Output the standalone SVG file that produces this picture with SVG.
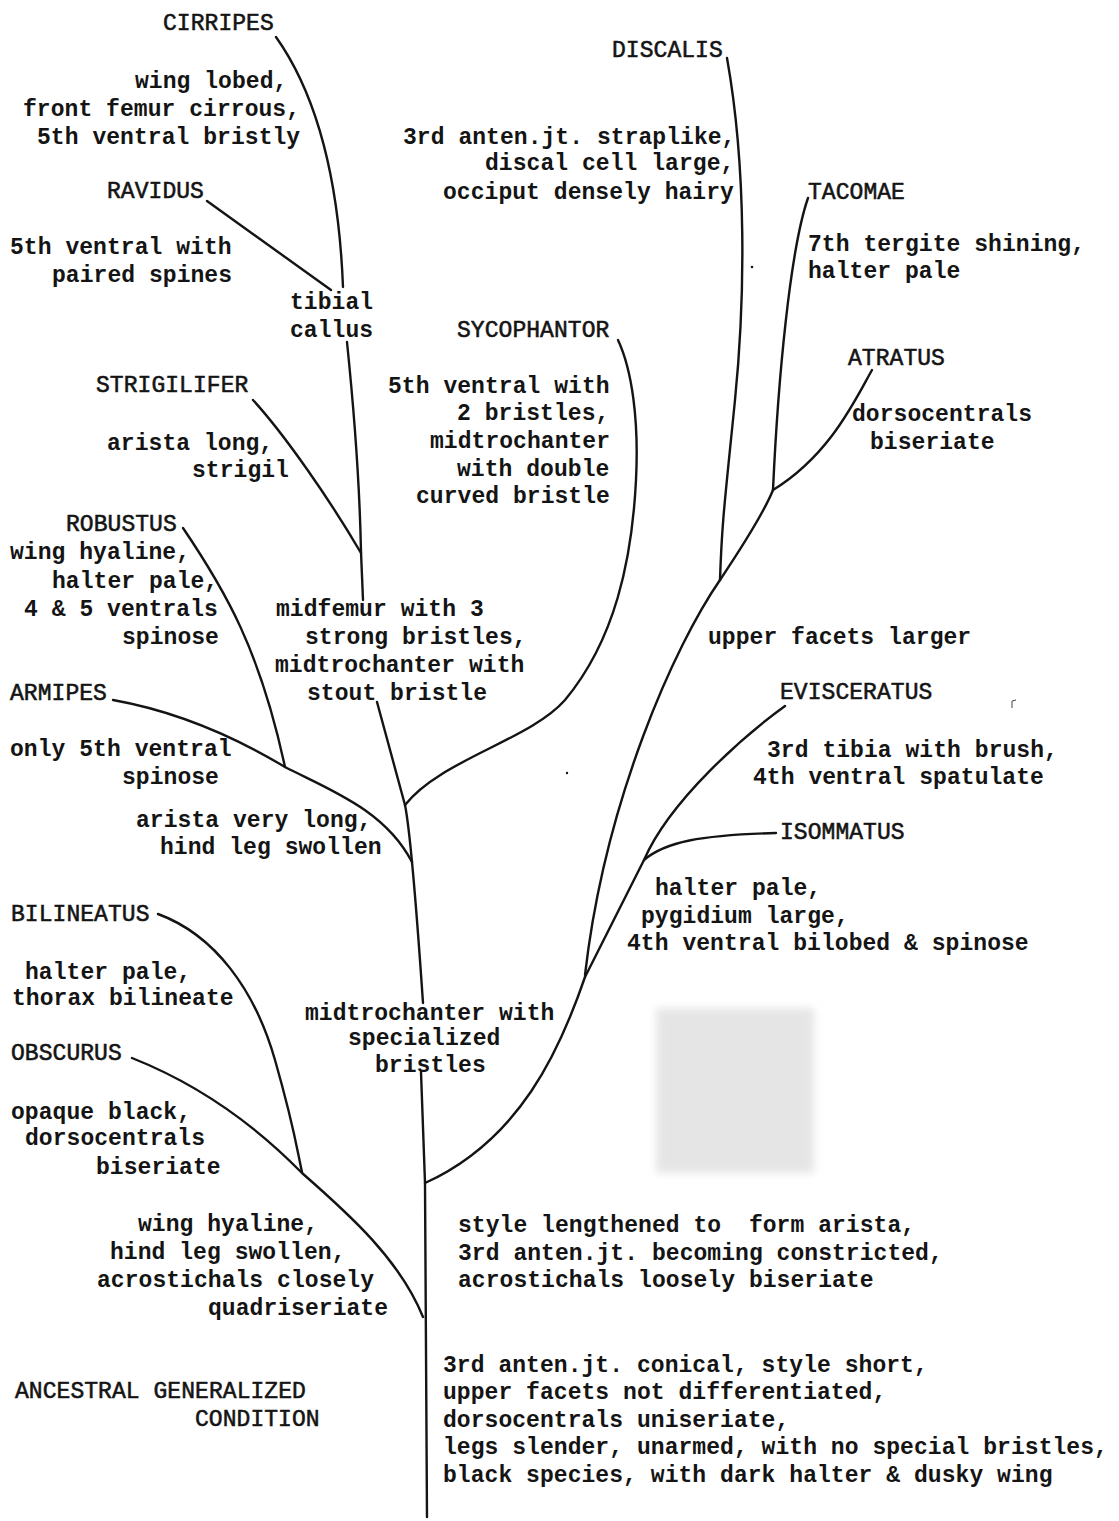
<svg xmlns="http://www.w3.org/2000/svg" width="1119" height="1521" viewBox="0 0 1119 1521">
<style>
text { font-family: "Liberation Mono", "Courier New", monospace; font-size: 23px; letter-spacing: 0.05px; fill: #141414; }
.d { font-weight: bold; }
.n { font-weight: normal; stroke: #141414; stroke-width: 0.55px; }
.br { fill: none; stroke: #141414; stroke-width: 2.4; stroke-linecap: round; stroke-linejoin: round; }
</style>
<defs>
<filter id="blur" x="-20%" y="-20%" width="140%" height="140%"><feGaussianBlur stdDeviation="4"/></filter>
</defs>
<rect width="1119" height="1521" fill="#ffffff"/>
<rect x="656" y="1008" width="158" height="165" fill="#e5e5e5" filter="url(#blur)"/>
<g id="specks" fill="#141414">
<circle cx="752" cy="267" r="1.3"/>
<circle cx="567" cy="773" r="1.2"/>
<path d="M1012,708 L1012,701 L1016,700" fill="none" stroke="#444" stroke-width="1"/>
</g>

<g id="connectors">
<path class="br" d="M276,37 C310,85 338,160 343,287"/>
<path class="br" d="M207,201 L331,290"/>
<path class="br" d="M347,342 C355,420 360,500 361,552 L363,600"/>
<path class="br" d="M253,400 C285,435 330,500 361,553"/>
<path class="br" d="M377,702 L405,805 C410,830 418,930 423,1003"/>
<path class="br" d="M618,340 C632,370 639,420 636,480 C632,560 615,640 565,700 C530,740 440,760 405,805"/>
<path class="br" d="M183,528 C225,590 260,650 285,767"/>
<path class="br" d="M113,700 C180,712 240,740 285,767 C330,790 385,810 412,862"/>
<path class="br" d="M421,1072 L425,1183 L427,1517"/>
<path class="br" d="M158,914 C215,935 255,990 275,1060 S297,1150 302,1172"/>
<path class="br" d="M132,1058 C200,1085 255,1125 302,1173 C350,1215 400,1260 423,1317"/>
<path class="br" d="M727,58 C747,170 745,300 735,400 S722,520 720,580"/>
<path class="br" d="M808,198 C790,250 778,380 773,490"/>
<path class="br" d="M872,370 C855,400 830,455 773,490"/>
<path class="br" d="M773,490 C765,510 740,550 720,580"/>
<path class="br" d="M720,580 C675,645 605,800 585,975"/>
<path class="br" d="M785,706 C745,735 670,800 644,860 L585,977"/>
<path class="br" d="M644,860 C665,842 700,835 776,833"/>
<path class="br" d="M585,977 C560,1050 520,1140 425,1183"/>
</g>

<g id="cirripes">
<text class="n" x="163" y="30">CIRRIPES</text>
<text class="d"><tspan x="135" y="88">wing lobed,</tspan><tspan x="23" y="116">front femur cirrous,</tspan><tspan x="37" y="144">5th ventral bristly</tspan></text>
</g>
<g id="ravidus">
<text class="n" x="107" y="198">RAVIDUS</text>
<text class="d"><tspan x="10" y="254">5th ventral with</tspan><tspan x="52" y="282">paired spines</tspan></text>
</g>
<g id="tibial-callus">
<text class="d"><tspan x="290" y="309">tibial</tspan><tspan x="290" y="337">callus</tspan></text>
</g>
<g id="discalis">
<text class="n" x="612" y="57">DISCALIS</text>
<text class="d"><tspan x="403" y="144">3rd anten.jt. straplike,</tspan><tspan x="485" y="170">discal cell large,</tspan><tspan x="443" y="199">occiput densely hairy</tspan></text>
</g>
<g id="tacomae">
<text class="n" x="808" y="199">TACOMAE</text>
<text class="d"><tspan x="808" y="251">7th tergite shining,</tspan><tspan x="808" y="278">halter pale</tspan></text>
</g>
<g id="atratus">
<text class="n" x="848" y="365">ATRATUS</text>
<text class="d"><tspan x="852" y="421">dorsocentrals</tspan><tspan x="870" y="449">biseriate</tspan></text>
</g>
<g id="sycophantor">
<text class="n" x="457" y="337">SYCOPHANTOR</text>
<text class="d"><tspan x="388" y="393">5th ventral with</tspan><tspan x="457" y="420">2 bristles,</tspan><tspan x="430" y="448">midtrochanter</tspan><tspan x="457" y="476">with double</tspan><tspan x="416" y="503">curved bristle</tspan></text>
</g>
<g id="strigilifer">
<text class="n" x="96" y="392">STRIGILIFER</text>
<text class="d"><tspan x="107" y="450">arista long,</tspan><tspan x="192" y="477">strigil</tspan></text>
</g>
<g id="robustus">
<text class="n" x="66" y="531">ROBUSTUS</text>
<text class="d"><tspan x="10" y="559">wing hyaline,</tspan><tspan x="52" y="588">halter pale,</tspan><tspan x="24" y="616">4 &amp; 5 ventrals</tspan><tspan x="122" y="644">spinose</tspan></text>
</g>
<g id="midfemur">
<text class="d"><tspan x="276" y="616">midfemur with 3</tspan><tspan x="305" y="644">strong bristles,</tspan><tspan x="275" y="672">midtrochanter with</tspan><tspan x="307" y="700">stout bristle</tspan></text>
</g>
<g id="armipes">
<text class="n" x="10" y="700">ARMIPES</text>
<text class="d"><tspan x="10" y="756">only 5th ventral</tspan><tspan x="122" y="784">spinose</tspan></text>
</g>
<g id="arista-very-long">
<text class="d"><tspan x="136" y="827">arista very long,</tspan><tspan x="160" y="854">hind leg swollen</tspan></text>
</g>
<g id="upper-facets">
<text class="d" x="708" y="644">upper facets larger</text>
</g>
<g id="eviceratus">
<text class="n" x="780" y="699">EVISCERATUS</text>
<text class="d"><tspan x="767" y="757">3rd tibia with brush,</tspan><tspan x="753" y="784">4th ventral spatulate</tspan></text>
</g>
<g id="isommatus">
<text class="n" x="780" y="839">ISOMMATUS</text>
<text class="d"><tspan x="655" y="895">halter pale,</tspan><tspan x="641" y="923">pygidium large,</tspan><tspan x="627" y="950">4th ventral bilobed &amp; spinose</tspan></text>
</g>
<g id="bilineatus">
<text class="n" x="11" y="921">BILINEATUS</text>
<text class="d"><tspan x="25" y="979">halter pale,</tspan><tspan x="12" y="1005">thorax bilineate</tspan></text>
</g>
<g id="obscurus">
<text class="n" x="11" y="1060">OBSCURUS</text>
<text class="d"><tspan x="11" y="1119">opaque black,</tspan><tspan x="25" y="1145">dorsocentrals</tspan><tspan x="96" y="1174">biseriate</tspan></text>
</g>
<g id="midtrochanter-specialized">
<text class="d"><tspan x="305" y="1020">midtrochanter with</tspan><tspan x="348" y="1045">specialized</tspan><tspan x="375" y="1072">bristles</tspan></text>
</g>
<g id="wing-hyaline">
<text class="d"><tspan x="138" y="1231">wing hyaline,</tspan><tspan x="110" y="1259">hind leg swollen,</tspan><tspan x="97" y="1287">acrostichals closely</tspan><tspan x="208" y="1315">quadriseriate</tspan></text>
</g>
<g id="style-lengthened">
<text class="d" xml:space="preserve"><tspan x="458" y="1232">style lengthened to  form arista,</tspan><tspan x="458" y="1260">3rd anten.jt. becoming constricted,</tspan><tspan x="458" y="1287">acrostichals loosely biseriate</tspan></text>
</g>
<g id="ancestral">
<text class="n"><tspan x="15" y="1398">ANCESTRAL GENERALIZED</tspan><tspan x="195" y="1426">CONDITION</tspan></text>
</g>
<g id="ancestral-traits">
<text class="d"><tspan x="443" y="1372">3rd anten.jt. conical, style short,</tspan><tspan x="443" y="1399">upper facets not differentiated,</tspan><tspan x="443" y="1427">dorsocentrals uniseriate,</tspan><tspan x="443" y="1454">legs slender, unarmed, with no special bristles,</tspan><tspan x="443" y="1482">black species, with dark halter &amp; dusky wing</tspan></text>
</g>
</svg>
